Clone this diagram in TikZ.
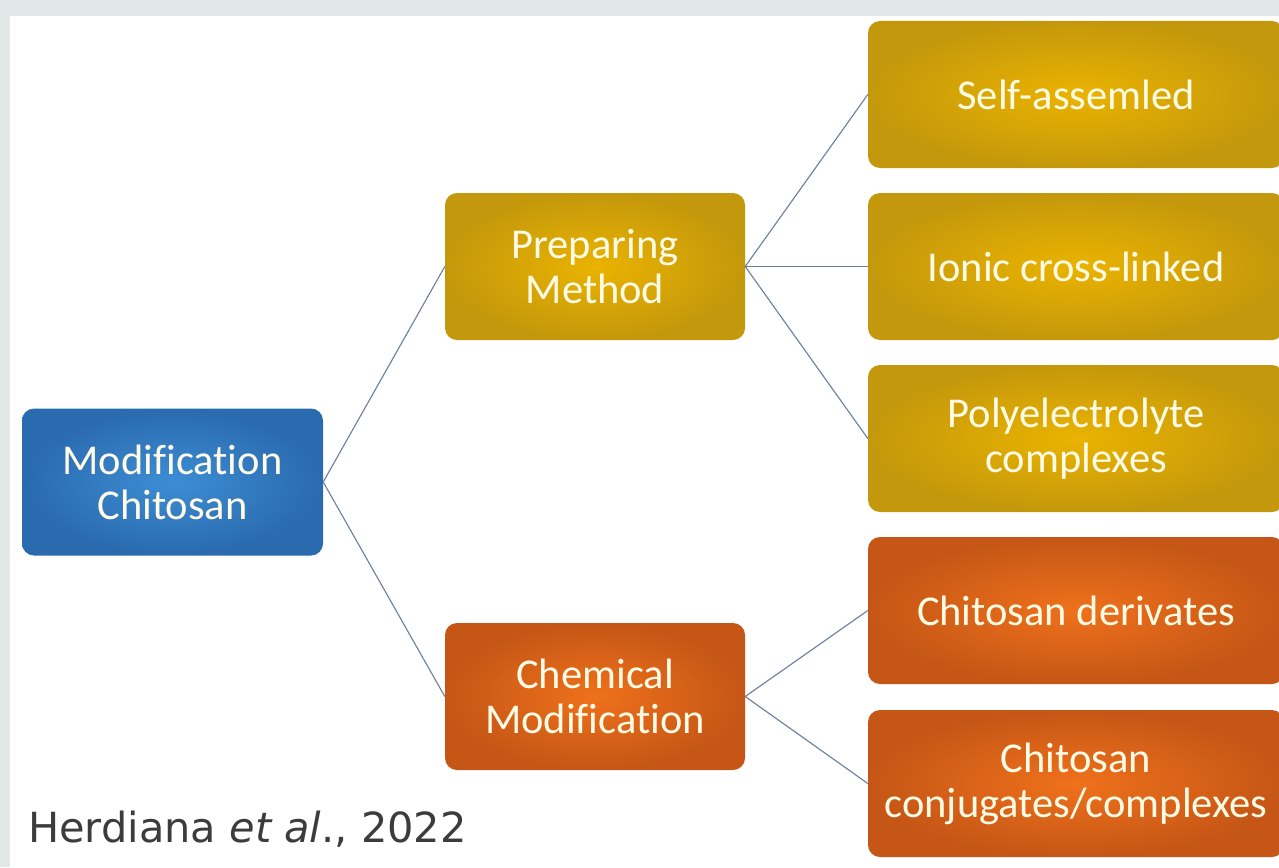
\documentclass[tikz,border=0pt]{standalone}
\usepackage{fontspec}
\setmainfont{Carlito}[Ligatures={TeX,NoCommon}]
\newfontfamily\citefont{DejaVu Sans}
\definecolor{framegrey}{HTML}{E2E8E7}
\definecolor{linkblue}{HTML}{6A7D9C}
\definecolor{textcream}{HTML}{FFFBE4}
\definecolor{blueIn}{HTML}{3D8DD4}
\definecolor{blueOut}{HTML}{2A6AAE}
\definecolor{goldIn}{HTML}{EAB300}
\definecolor{goldOut}{HTML}{C4980C}
\definecolor{orangeIn}{HTML}{EF711B}
\definecolor{orangeOut}{HTML}{C55616}
\definecolor{citegrey}{HTML}{3C3C3C}
\tikzset{
  box/.style={rectangle, rounded corners=12pt, inner sep=0pt, align=center,
    text=textcream, font=\fontsize{42.5}{45}\selectfont,
    minimum width=300pt, minimum height=147pt},
  bluebox/.style={box, inner color=blueIn, outer color=blueOut},
  goldbox/.style={box, inner color=goldIn, outer color=goldOut},
  orangebox/.style={box, inner color=orangeIn, outer color=orangeOut},
  leafbox/.style={minimum width=416pt},
  link/.style={draw=linkblue, line width=1.1pt},
}
\begin{document}
\begin{tikzpicture}[x=1pt,y=-1pt]
\useasboundingbox (0,0) rectangle (1279,867);
\fill[framegrey] (0,0) rectangle (1279,867);
\fill[white] (10,16) rectangle (1279,867);
\begin{scope}
\clip (10,16) rectangle (1279,867);
% root
\node[bluebox, minimum width=301pt] (mod) at (172.5,482) {Modification\\Chitosan};
% second level
\node[goldbox] (prep) at (595,266.5) {Preparing\\Method};
\node[orangebox] (chem) at (595,696.5) {Chemical\\Modification};
% leaves
\node[goldbox, leafbox] (self) at (1076,94.5) {Self-assemled};
\node[goldbox, leafbox] (ionic) at (1076,266.5) {Ionic cross-linked};
\node[goldbox, leafbox] (poly) at (1076,438.5) {Polyelectrolyte\\complexes};
\node[orangebox, leafbox] (deriv) at (1076,610.5) {Chitosan derivates};
\node[orangebox, leafbox] (conj) at (1076,783.5) {Chitosan\\conjugates/complexes};
% connectors
\draw[link] (mod.east) -- (prep.west);
\draw[link] (mod.east) -- (chem.west);
\draw[link] (prep.east) -- (self.west);
\draw[link] (prep.east) -- (ionic.west);
\draw[link] (prep.east) -- (poly.west);
\draw[link] (chem.east) -- (deriv.west);
\draw[link] (chem.east) -- (conj.west);
\end{scope}
% citation
\node[anchor=base west, inner sep=0pt, text=citegrey, font=\citefont\fontsize{41.5}{48}\selectfont] (cite) at (28,842) {Herdiana \textit{et al}., 2022};
\end{tikzpicture}
\end{document}
